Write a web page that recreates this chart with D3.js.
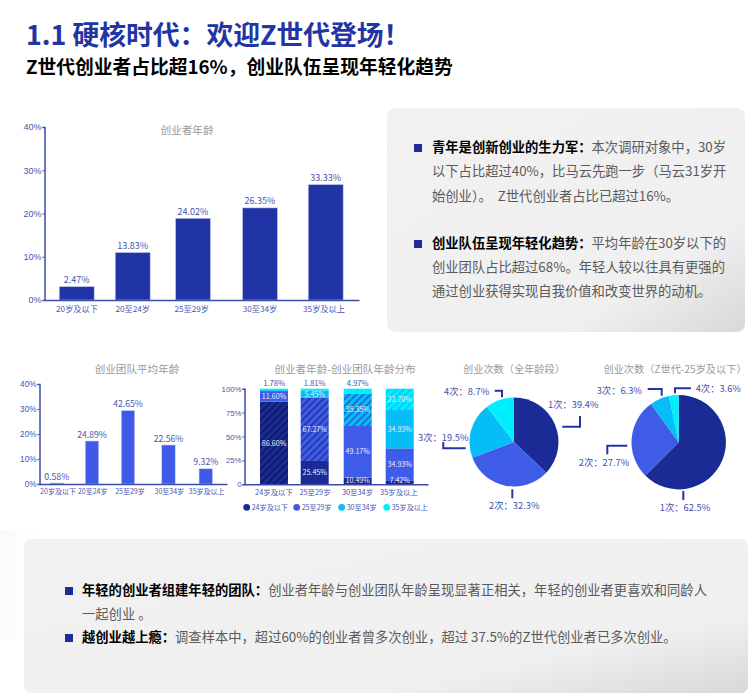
<!DOCTYPE html>
<html><head><meta charset="utf-8">
<script src="https://cdn.jsdelivr.net/npm/d3@7"></script>
<style>
html,body{margin:0;padding:0;background:#fff}
svg{display:block;font-family:"Noto Sans CJK SC","Noto Sans",sans-serif}
</style></head><body><div id="c"></div>
<script>
// ---------- data ----------
const ageCats = ["20岁及以下","20至24岁","25至29岁","30至34岁","35岁及以上"];
const founderBars = [3.1,11.0,18.9,21.3,26.7];           // heights as drawn against the axis
const founderLabels = ["2.47%","13.83%","24.02%","26.35%","33.33%"];
const teamBars = [0.4,17.2,29.4,15.6,6.1];
const teamLabels = ["0.58%","24.89%","42.65%","22.56%","9.32%"];
const ageTicks = [0,10,20,30,40];

const stackCats = ["24岁及以下","25至29岁","30至34岁","35岁及以上"];
const stackKeys = ["24岁及以下","25至29岁","30至34岁","35岁及以上"];
const s24 = [86.4,24.4,7.0,3.5];
const s25 = [11.1,66.2,54.0,34.1];
const s30 = [1.0,7.6,34.1,40.1];
const s35 = [1.5,1.8,4.9,22.3];
const l24 = ["86.60%","25.45%","10.49%","7.42%"];
const l25 = ["11.60%","67.27%","49.17%","34.93%"];
const l30 = [null,"5.45%","35.35%","34.93%"];
const l35 = ["1.78%","1.81%","4.97%","22.70%"];
const hatchedSeries = [0,1,2,3];                          // per column: which series is hatched
const stackTicks = [0,25,50,75,100];
const stackTickLabels = ["0","25%","50%","75%","100%"];

const pieAllSlices = [37.1,32.1,20.4,10.4];
const pieAllLabels = ["1次：39.4%","2次：32.3%","3次：19.5%","4次：8.7%"];
const pieZSlices = [62.5,27.5,6.7,3.3];
const pieZLabels = ["1次：62.5%","2次：27.7%","3次：6.3%","4次：3.6%"];

// ---------- style / layout ----------
const W=753,H=699;
const NAVY="#2034a5",BLUE="#3f5ae8",AXIS="#3b4bac",TICK="#4755b0",GREY="#9a9a9a",BODY="#5a5a5a";
const PAL=["#1a2b96","#3f5ce8","#05bdf7","#00efff"];
const HATCH=["#0b1450","#1a2b96","#2f46c4","#05bdf7"];

const svg=d3.select("#c").append("svg").attr("width",W).attr("height",H).attr("viewBox",`0 0 ${W} ${H}`);
const defs=svg.append("defs");
const pg=defs.append("linearGradient").attr("id","panel").attr("x1","0").attr("y1","0").attr("x2","1").attr("y2","1");
pg.append("stop").attr("offset","0").attr("stop-color","#f1f1f1");
pg.append("stop").attr("offset","0.74").attr("stop-color","#f0f0f0");
pg.append("stop").attr("offset","1").attr("stop-color","#d8d8d8");
const fg=defs.append("linearGradient").attr("id","fade").attr("x1","0").attr("x2","1").attr("y1","0").attr("y2","0");
fg.append("stop").attr("offset","0").attr("stop-color","#fafafa");
fg.append("stop").attr("offset","1").attr("stop-color","#ffffff");
PAL.forEach((c,i)=>{
  const p=defs.append("pattern").attr("id","hatch"+i).attr("width",5).attr("height",5)
    .attr("patternUnits","userSpaceOnUse").attr("patternTransform","rotate(45)");
  p.append("rect").attr("width",5).attr("height",5).attr("fill",c);
  p.append("rect").attr("width",1.6).attr("height",5).attr("fill",HATCH[i]).attr("opacity",.85);
});

function txt(g,x,y,s,o={}){
  return g.append("text").attr("x",x).attr("y",y).text(s)
   .attr("font-size",o.size||10).attr("fill",o.fill||TICK).attr("text-anchor",o.anchor||"middle")
   .attr("font-weight",o.weight||400);
}

// background pieces
svg.append("rect").attr("x",0).attr("y",530).attr("width",40).attr("height",110).attr("fill","url(#fade)");
svg.append("rect").attr("x",387).attr("y",108).attr("width",358).attr("height",224).attr("rx",8).attr("fill","url(#panel)");
svg.append("rect").attr("x",24).attr("y",539).attr("width",724).attr("height",154).attr("rx",7).attr("fill","url(#panel)");

// titles
txt(svg,26,44.8,"1.1 硬核时代：欢迎Z世代登场！",{size:26.8,fill:"#2235a3",anchor:"start",weight:700});
txt(svg,26,74.4,"Z世代创业者占比超16%，创业队伍呈现年轻化趋势",{size:18.75,fill:"#000",anchor:"start",weight:700});

// paragraphs
function para(x,y,runs){
  const t=svg.append("text").attr("x",x).attr("y",y).attr("font-size",13.3).attr("fill",BODY);
  runs.forEach(r=>t.append("tspan").text(r[0]).attr("font-weight",r[1]?700:400).attr("fill",r[1]?"#000":BODY));
}
function bullet(x,y){svg.append("rect").attr("x",x).attr("y",y).attr("width",8).attr("height",8).attr("fill","#1b2d98");}
bullet(414,144);
para(432,152,[["青年是创新创业的生力军：",1],["本次调研对象中，30岁",0]]);
para(432,176,[["以下占比超过40%，比马云先跑一步（马云31岁开",0]]);
para(432,201,[["始创业）。\u00a0\u00a0Z世代创业者占比已超过16%。",0]]);
bullet(414,240);
para(432,248,[["创业队伍呈现年轻化趋势：",1],["平均年龄在30岁以下的",0]]);
para(432,272,[["创业团队占比超过68%。年轻人较以往具有更强的",0]]);
para(432,296,[["通过创业获得实现自我价值和改变世界的动机。",0]]);
bullet(65,587);
para(82,595,[["年轻的创业者组建年轻的团队：",1],["创业者年龄与创业团队年龄呈现显著正相关，年轻的创业者更喜欢和同龄人",0]]);
para(82,619,[["一起创业 。",0]]);
bullet(65,634);
para(82,642,[["越创业越上瘾：",1],["调查样本中，超过60%的创业者曾多次创业，超过 37.5%的Z世代创业者已多次创业。",0]]);

function styleAxis(g,size){
  g.selectAll("path,line").attr("stroke",AXIS);
  g.select("path").attr("stroke-width",1.5);
  g.selectAll("text").attr("fill",TICK).attr("font-size",size).attr("font-family","inherit");
}

// simple bar chart
function barChart(o){
  const g=svg.append("g");
  const y=d3.scaleLinear().domain([0,40]).range([o.y0,o.y1]);
  const x=d3.scaleOrdinal().domain(ageCats).range(o.centers);
  const lx=d3.scaleOrdinal().domain(ageCats).range(o.labelCenters);
  g.selectAll(".bar").data(o.vals).join("rect")
    .attr("x",(d,i)=>x(ageCats[i])-o.w/2).attr("width",o.w)
    .attr("y",d=>y(d)).attr("height",d=>y(0)-y(d))
    .attr("fill",o.color).attr("stroke","#ccd2ee").attr("stroke-width",.6);
  g.selectAll(".lab").data(o.labels).join("text")
    .attr("x",(d,i)=>x(ageCats[i])).attr("y",(d,i)=>y(o.vals[i])-3.5).text(d=>d)
    .attr("text-anchor","middle").attr("font-size",o.labSize).attr("fill",TICK);
  const ya=g.append("g").attr("transform",`translate(${o.x0},0)`)
    .call(d3.axisLeft(y).tickValues(ageTicks).tickFormat(d=>d+"%").tickSize(2).tickPadding(1));
  styleAxis(ya,o.tickSize);
  const xa=g.append("g").attr("transform",`translate(0,${o.y0})`)
    .call(d3.axisBottom(d3.scaleLinear().domain([o.x0,o.x1]).range([o.x0,o.x1])).tickValues([]).tickSize(0));
  styleAxis(xa,8);
  ageCats.forEach(c=>txt(g,lx(c),o.y0+o.catDy,c,{size:o.catSize}));
  txt(g,o.tx,o.ty,o.title,{size:10.6,fill:GREY});
}
barChart({vals:founderBars,labels:founderLabels,y0:300,y1:127,x0:44.5,x1:359,w:35,color:NAVY,
  centers:[76.7,132.7,193,260,325.7],labelCenters:[77,132.7,191.7,260,324],
  labSize:9,tickSize:9,catSize:8.2,catDy:12,title:"创业者年龄",tx:187,ty:134});
barChart({vals:teamBars,labels:teamLabels,y0:484,y1:384,x0:39.5,x1:227,w:13.5,color:BLUE,
  centers:[56.7,92,128,168.5,205.8],labelCenters:[58,92.7,130,169.3,206.7],
  labSize:8.7,tickSize:8.2,catSize:7,catDy:10,title:"创业团队平均年龄",tx:137,ty:373});

// stacked chart
(function(){
  const g=svg.append("g");
  const y=d3.scaleLinear().domain([0,100]).range([484.3,388.7]);
  const x=d3.scaleOrdinal().domain(stackCats).range([274,314.7,357.7,399.7]);
  const w=28;
  const rows=stackCats.map((c,i)=>({cat:c,[stackKeys[0]]:s24[i],[stackKeys[1]]:s25[i],[stackKeys[2]]:s30[i],[stackKeys[3]]:s35[i]}));
  const series=d3.stack().keys(stackKeys)(rows);
  const labs=[l24,l25,l30,l35];
  series.forEach((s,si)=>{
    g.selectAll(".s"+si).data(s).join("rect")
      .attr("x",d=>x(d.data.cat)-w/2).attr("width",w)
      .attr("y",d=>y(d[1])).attr("height",d=>y(d[0])-y(d[1]))
      .attr("fill",(d,i)=>hatchedSeries[i]===si?`url(#hatch${si})`:PAL[si]);
  });
  series.forEach((s,si)=>{
    s.forEach((d,i)=>{
      const t=labs[si][i]; if(!t) return;
      const above=(d[1]-d[0])<6 && si===3;
      const thinBottom=si===0&&(d[1]-d[0])<10;
      const ly=above?y(100)-2.5:thinBottom?482.6:(y(d[0])+y(d[1]))/2+2.6;
      txt(g,x(d.data.cat),ly,t,{size:above?7.6:7.2,fill:above?TICK:"#e6eafa"});
    });
  });
  const ya=g.append("g").attr("transform","translate(244.5,0)")
    .call(d3.axisLeft(y).tickValues(stackTicks).tickFormat((d,i)=>stackTickLabels[i]).tickSize(2).tickPadding(1));
  styleAxis(ya,7.8);
  const xa=g.append("g").attr("transform","translate(0,484.3)")
    .call(d3.axisBottom(d3.scaleLinear().domain([244.5,428]).range([244.5,428])).tickValues([]).tickSize(0));
  styleAxis(xa,8);
  const catLx=d3.scaleOrdinal().domain(stackCats).range([274,315,357.5,399]);
  stackCats.forEach(c=>txt(g,catLx(c),494.5,c,{size:7.4}));
  const lc=d3.scaleOrdinal().domain(stackKeys).range([246.7,296.7,341.7,386.7]);
  stackKeys.forEach((k,i)=>{
    g.append("circle").attr("cx",lc(k)).attr("cy",507.3).attr("r",3.4).attr("fill",PAL[i]);
    txt(g,lc(k)+5,510,k,{size:7.1,anchor:"start"});
  });
  txt(g,345,373,"创业者年龄-创业团队年龄分布",{size:10.6,fill:GREY});
})();

// pies
function pie(o){
  const g=svg.append("g").attr("transform",`translate(${o.cx},${o.cy})`);
  const arcs=d3.pie().sort(null)(o.vals);
  const arc=d3.arc().innerRadius(0).outerRadius(o.r);
  g.selectAll("path").data(arcs).join("path").attr("d",arc).attr("fill",(d,i)=>PAL[i]);
  const line=d3.line();
  o.leaders.forEach(l=>g.append("path").attr("d",line(l)).attr("fill","none").attr("stroke","#2434a6").attr("stroke-width",2));
  o.labels.forEach((t,i)=>txt(g,o.labelPos[i][0],o.labelPos[i][1],t,{size:9.3,fill:"#3f4fb0"}));
  txt(g,o.tx-o.cx,o.ty-o.cy,o.title,{size:10.2,fill:GREY});
}
pie({cx:514,cy:442,r:44.5,vals:pieAllSlices,labels:pieAllLabels,
  leaders:[[[48.3,-15.3],[66,-15.3],[66,-26]],[[-1.7,47.3],[-1.7,56.3]],[[-48.3,6.3],[-70.7,6.3],[-70.7,0]],[[-12,-44.7],[-12,-51.3],[-19.3,-51.3]]],
  labelPos:[[59.3,-34.5],[0.3,67],[-70.7,-1.5],[-47.3,-47.5]],
  title:"创业次数（全年龄段）",tx:514,ty:373});
pie({cx:678.7,cy:442.2,r:47.2,vals:pieZSlices,labels:pieZLabels,
  leaders:[[[4.6,48.8],[4.6,57.8]],[[-51.4,3.5],[-71.4,3.5],[-71.4,12.1]],[[-17,-46.5],[-17,-53.2],[-31,-53.2]],[[-3.7,-48.9],[-3.7,-53.9],[12.3,-53.9]]],
  labelPos:[[6.3,69],[-74.7,23.5],[-59.4,-48.5],[39.6,-50.5]],
  title:"创业次数（Z世代-25岁及以下）",tx:675,ty:373});
</script></body></html>
